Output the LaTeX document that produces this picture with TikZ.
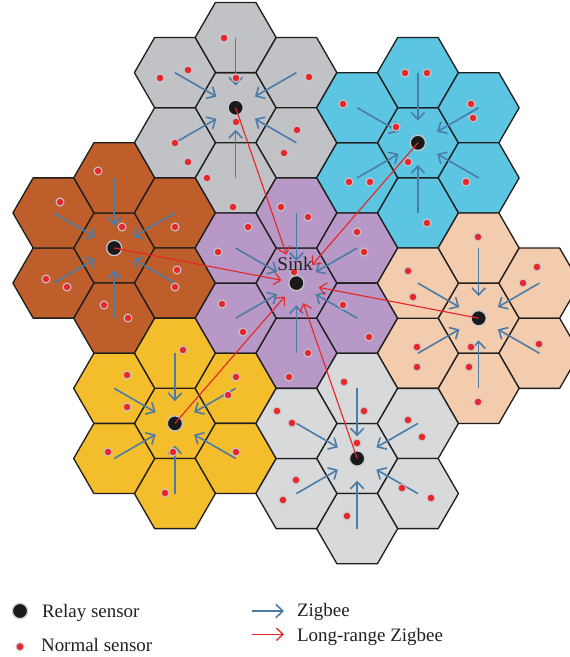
\documentclass[tikz,border=0pt]{standalone}
\usepackage{fontspec}
\setmainfont{Liberation Serif}
\definecolor{GrayTop}{RGB}{193,194,197}
\definecolor{GrayBot}{RGB}{216,217,219}
\definecolor{CellCyan}{RGB}{91,197,226}
\definecolor{CellBrown}{RGB}{190,95,43}
\definecolor{CellPurple}{RGB}{183,152,199}
\definecolor{CellPeach}{RGB}{243,203,173}
\definecolor{CellYellow}{RGB}{244,189,44}
\definecolor{HexEdge}{RGB}{30,30,30}
\definecolor{ZigBlue}{RGB}{75,123,167}
\definecolor{LongRed}{RGB}{230,40,42}
\definecolor{SensorRed}{RGB}{234,38,42}
\definecolor{RingGray}{RGB}{200,200,205}
\definecolor{RelayBlack}{RGB}{26,26,28}
\definecolor{LabelText}{RGB}{35,31,32}
\usetikzlibrary{arrows.meta}

% one cluster: centre cell and its six neighbours
\newcommand{\hexcluster}[4]{%
  \begin{scope}[shift={(#2,#3)}]
    \foreach \dx/\dy [count=\k from 0] in {0/0,0/-70.15,60.75/-35.07,60.75/35.07,0/70.15,-60.75/35.07,-60.75/-35.07}{
      \pic[fill=#4] at (\dx,\dy) {hexcell};
      \coordinate (#1-\k) at (\dx,\dy);
    }
  \end{scope}}

\begin{document}
\begin{tikzpicture}[x=0.02cm, y=-0.02cm,
  hexcell/.pic={\filldraw[line width=0.75pt, draw=HexEdge, line join=round]
    (40.5,0) -- (20.25,35.07) -- (-20.25,35.07) -- (-40.5,0) -- (-20.25,-35.07) -- (20.25,-35.07) -- cycle;},
  relay/.style={circle, fill=RelayBlack, draw=RingGray, line width=0.7pt, minimum size=8.6pt, inner sep=0pt},
  sensor/.style={fill=SensorRed, draw=RingGray, line width=0.6pt},
  zb/.style={-{Straight Barb[length=4pt,width=7.6pt]}, ZigBlue, line width=0.9pt, shorten >=8pt},
  lrz/.style={-{Straight Barb[length=3.8pt,width=7pt]}, LongRed, line width=0.65pt},
  legtext/.style={anchor=base west, inner sep=0pt, text=LabelText, font=\fontsize{10.8}{13}\selectfont}]
  \useasboundingbox (0,0) rectangle (570,657);
  \clip (0,0) rectangle (570,657);

  %% 1. Clusters
  \hexcluster{gt}{235.65}{107.7}{GrayTop}
  \hexcluster{cy}{417.9}{142.8}{CellCyan}
  \hexcluster{br}{114.15}{248.0}{CellBrown}
  \hexcluster{pu}{296.4}{283.1}{CellPurple}
  \hexcluster{pe}{478.65}{318.2}{CellPeach}
  \hexcluster{ye}{174.9}{423.4}{CellYellow}
  \hexcluster{gb}{357.15}{458.5}{GrayBot}

  %% 2. Relay sensors and sink
  \foreach \c in {gt,cy,br,pe,ye,gb}
    \node[relay] (\c) at (\c-0) {};
  \node[relay] (sink) at (pu-0) {};

  %% 3. Zigbee links
  \foreach \c in {gt,cy,br,pe,ye,gb}
    \foreach \k in {1,...,6}
      \draw[zb] (\c-\k) -- (\c);
  \foreach \k in {1,...,6}
    \draw[zb] (pu-\k) -- (sink);

  %% 4. Normal sensors
  \foreach \p in {(224,38),(160,78),(188,70),(236,78),(309,77),(236,122),(297,130),(284,153),(175,143),(188,162),(207,178),(233,207),
    (405,73),(427,73),(343,104),(471,104),(473,118),(396,127),(408,162),(349,182),(370,182),(466,182),(427,223),
    (98,171),(60,202),(122,227),(175,227),(46,279),(67,287),(177,270),(175,287),(104,305),(128,318),
    (281,207),(308,217),(248,227),(218,252),(357,232),(364,252),(294,272),(222,304),(243,332),(343,305),(369,337),(308,353),(289,377),
    (478,237),(408,271),(413,297),(537,267),(523,283),(417,347),(417,367),(471,347),(539,344),(469,367),(478,402),
    (183,350),(127,375),(127,407),(236,377),(228,395),(108,452),(236,452),(173,452),(165,493),
    (344,382),(364,411),(277,411),(292,423),(408,420),(422,437),(357,443),(296,480),(283,500),(402,488),(431,498),(347,516)}
    \filldraw[sensor] \p circle (2.25pt);

  %% 5. Long-range links to the sink
  \foreach \c/\s in {gt/12.5,cy/9,pe/8.3,gb/7.4,ye/5.5,br/4}
    \draw[lrz, shorten >=\s pt] (\c.center) -- (sink);
  \node[anchor=base, inner sep=0pt, text=LabelText, font=\fontsize{11}{13}\selectfont] (sinklabel) at (295,270) {Sink};

  %% 6. Legend
  \node[relay] (legrelay) at (20,611) {};
  \node[legtext] (legrelaytxt) at (41.7,617.3) {Relay sensor};
  \filldraw[sensor] (20,646.7) circle (2.25pt);
  \node[legtext] (legnormaltxt) at (40.7,651.7) {Normal sensor};
  \coordinate (zbstart) at (252.3,611);
  \coordinate (zbend) at (284,611);
  \draw[zb, shorten >=0pt] (zbstart) -- (zbend);
  \node[legtext] (zbtxt) at (296.7,616.7) {Zigbee};
  \coordinate (lrstart) at (252.3,634.3);
  \coordinate (lrend) at (284,634.3);
  \draw[lrz, line width=0.75pt] (lrstart) -- (lrend);
  \node[legtext] (lrtxt) at (296.7,641.7) {Long-range Zigbee};
\end{tikzpicture}
\end{document}
